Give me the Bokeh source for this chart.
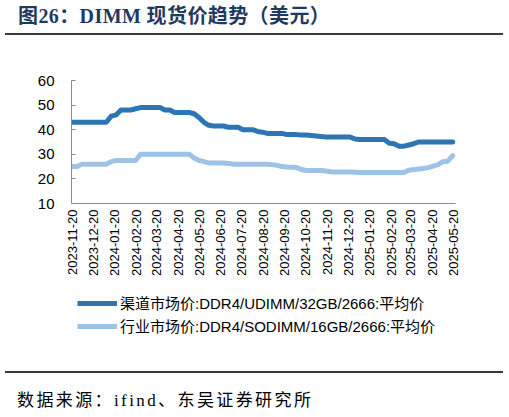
import pandas as pd
from bokeh.plotting import figure
from bokeh.models import (Range1d, FixedTicker, DatetimeTickFormatter, Legend,
                          LegendItem, ColumnDataSource, Div)
from bokeh.layouts import column
from bokeh.embed import file_html
from bokeh.resources import INLINE

# ---------------- data ----------------
start_date = "2023-11-20"
n_weeks = 79

channel_price = [  # 渠道市场价:DDR4/UDIMM/32GB/2666:平均价
    43, 43, 43, 43, 43, 43, 43, 43, 45.5, 46,
    48, 48, 48, 48.5, 49, 49, 49, 49, 49, 48,
    48, 47, 47, 47, 47, 46.5, 45, 43, 41.8, 41.5,
    41.5, 41.5, 41, 41, 41, 40, 40, 40, 39.3, 39,
    38.5, 38.5, 38.5, 38.5, 38, 38, 38, 37.8, 37.8, 37.6,
    37.4, 37.2, 37, 37, 37, 37, 37, 37, 36.2, 36,
    36, 36, 36, 36, 36, 34.5, 34.3, 33.3, 33.3, 33.8,
    34.3, 35, 35, 35, 35, 35, 35, 35, 35,
]
industry_price = [  # 行业市场价:DDR4/SODIMM/16GB/2666:平均价
    25, 25, 26, 26, 26, 26, 26, 26, 27, 27.5,
    27.5, 27.5, 27.5, 27.5, 30, 30, 30, 30, 30, 30,
    30, 30, 30, 30, 30, 28.5, 27.5, 27, 26.5, 26.5,
    26.5, 26.5, 26.3, 26, 26, 26, 26, 26, 26, 26,
    26, 25.8, 25.5, 25, 24.8, 24.7, 24.6, 23.8, 23.4, 23.4,
    23.4, 23.4, 23.2, 22.9, 22.8, 22.8, 22.8, 22.8, 22.7, 22.6,
    22.6, 22.6, 22.6, 22.6, 22.6, 22.6, 22.6, 22.6, 22.6, 23.5,
    23.8, 24, 24.2, 24.6, 25.2, 25.8, 27, 27.2, 29.5,
]
series_names = ["渠道市场价:DDR4/UDIMM/32GB/2666:平均价",
                "行业市场价:DDR4/SODIMM/16GB/2666:平均价"]
tick_labels = ["2023-11-20", "2023-12-20", "2024-01-20", "2024-02-20", "2024-03-20",
               "2024-04-20", "2024-05-20", "2024-06-20", "2024-07-20", "2024-08-20",
               "2024-09-20", "2024-10-20", "2024-11-20", "2024-12-20", "2025-01-20",
               "2025-02-20", "2025-03-20", "2025-04-20", "2025-05-20"]
y_ticks = [10, 20, 30, 40, 50, 60]

title_text = "图26：DIMM 现货价趋势（美元）"
source_text = "数据来源：ifind、东吴证券研究所"

# ---------------- styles / layout ----------------
DARK = "#2E75B6"
LIGHT = "#9DC3E6"
AXIS = "#8C8C8C"
RULE = "#3A3A3A"
SANS = "'Liberation Sans', 'Noto Sans CJK SC'"
SERIF = "'Liberation Serif', 'Noto Sans CJK SC'"
CW = 509
FL, FW = 71, 384
FR = CW - FL - FW

dates = pd.date_range(start_date, periods=n_weeks, freq="7D")
src = ColumnDataSource(dict(date=dates, channel=channel_price, industry=industry_price))

tick_dt = pd.to_datetime(tick_labels)
tick_ms = [float(t.value // 10**6) for t in tick_dt]
x_start = tick_dt[0] - pd.Timedelta(days=1)
x_end = tick_dt[-1] + pd.Timedelta(days=3)

RULE_CSS = (f"position:absolute;left:5px;width:498px;height:2px;display:block;"
            f"background-color:{RULE};font-size:0;line-height:0;")

# ---------------- header ----------------
header = Div(
    text=(f'<div style="position:relative;width:{CW}px;height:40px;">'
          f'<div style="position:absolute;left:18px;top:5px;line-height:23px;'
          f'font-family:{SERIF};font-size:20px;font-weight:bold;color:#1F3A5F;'
          f'letter-spacing:0.4px;white-space:nowrap;">{title_text}</div>'
          f'<div style="{RULE_CSS}top:33px;">&nbsp;</div></div>'),
    width=CW, height=40, margin=0)

# ---------------- chart ----------------
p = figure(frame_width=FW, frame_height=123, x_axis_type="datetime",
           x_range=Range1d(x_start, x_end), y_range=Range1d(y_ticks[0], y_ticks[-1]),
           toolbar_location=None, output_backend="svg",
           min_border_left=FL, min_border_right=FR, min_border_top=40,
           min_border_bottom=82, outline_line_color=None, margin=0)
p.grid.visible = False

p.line("date", "channel", source=src, line_color=DARK, line_width=5,
       line_join="round", line_cap="round")
p.line("date", "industry", source=src, line_color=LIGHT, line_width=5,
       line_join="round", line_cap="round")

xa = p.xaxis[0]
xa.ticker = FixedTicker(ticks=tick_ms)
fmt = "%Y-%m-%d"
xa.formatter = DatetimeTickFormatter(milliseconds=fmt, seconds=fmt, minsec=fmt, minutes=fmt,
                                     hourmin=fmt, hours=fmt, days=fmt, months=fmt, years=fmt)
xa.major_label_orientation = 3.14159265 / 2
xa.major_label_text_font = SANS
xa.major_label_text_font_size = "13px"
xa.major_label_text_color = "#000000"
xa.major_label_standoff = 6
xa.major_tick_in = 0
xa.major_tick_out = 0
xa.minor_tick_in = 0
xa.minor_tick_out = 0
xa.axis_line_color = AXIS

ya = p.yaxis[0]
ya.ticker = FixedTicker(ticks=y_ticks)
ya.major_label_text_font = SANS
ya.major_label_text_font_size = "15px"
ya.major_label_text_color = "#000000"
ya.major_label_standoff = 17
ya.major_tick_in = 4
ya.major_tick_out = 0
ya.minor_tick_in = 0
ya.minor_tick_out = 0
ya.major_tick_line_color = AXIS
ya.axis_line_color = AXIS

# ---------------- legend strip ----------------
leg = figure(width=CW, height=60, x_range=Range1d(0, 1), y_range=Range1d(0, 1),
             x_axis_type=None, y_axis_type=None, toolbar_location=None,
             output_backend="svg", min_border_left=FL, min_border_right=FR,
             min_border_top=0, min_border_bottom=0, outline_line_color=None, margin=0)
leg.grid.visible = False
# key renderers (their points lie outside the strip's ranges; only the legend keys show)
k1 = leg.line(x=[-10, -9], y=[-10, -10], line_color=DARK, line_width=5)
k2 = leg.line(x=[-10, -9], y=[-10, -10], line_color=LIGHT, line_width=5)
legend = Legend(items=[LegendItem(label=series_names[0], renderers=[k1]),
                       LegendItem(label=series_names[1], renderers=[k2])],
                location=(6, 9), orientation="vertical",
                border_line_color=None, background_fill_alpha=0,
                label_text_font=SANS, label_text_font_size="15px",
                label_text_color="#000000", glyph_width=40, glyph_height=20,
                label_height=20, spacing=2, padding=0, margin=0, label_standoff=3)
leg.add_layout(legend, "center")

# ---------------- footer ----------------
footer = Div(
    text=(f'<div style="position:relative;width:{CW}px;height:72px;">'
          f'<div style="{RULE_CSS}top:26px;">&nbsp;</div>'
          f'<div style="position:absolute;left:17px;top:45px;line-height:22px;'
          f'font-family:{SERIF};font-size:17px;color:#000000;letter-spacing:2.4px;'
          f'white-space:nowrap;">{source_text}</div></div>'),
    width=CW, height=72, margin=0)

layout = column(header, p, leg, footer, spacing=0)
open("out.html", "w").write(file_html(layout, INLINE))
